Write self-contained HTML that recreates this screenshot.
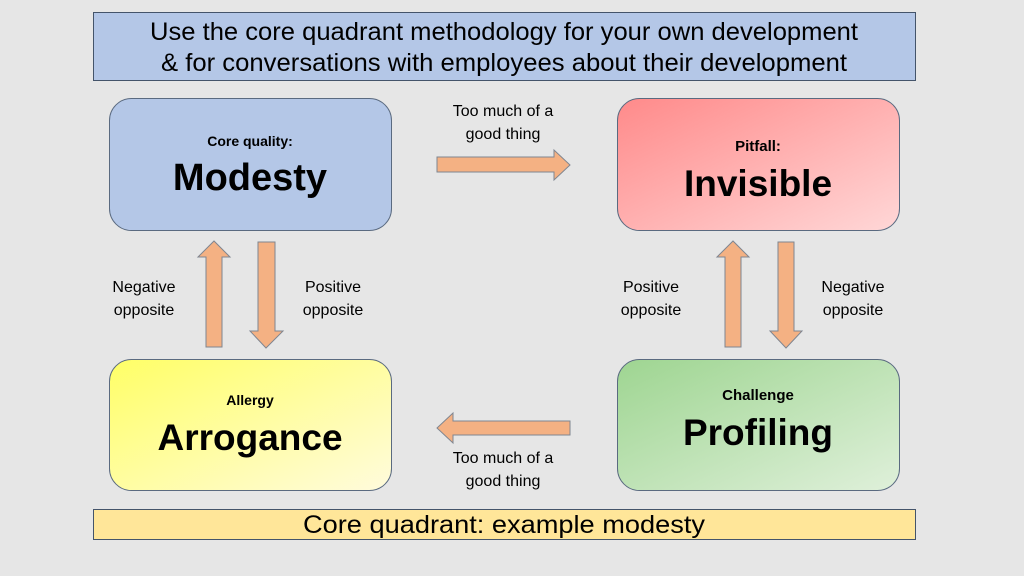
<!DOCTYPE html>
<html><head><meta charset="utf-8"><style>
html,body{margin:0;padding:0;background:#e6e6e6;}
svg{display:block;font-family:"Liberation Sans",sans-serif;}
</style></head><body>
<svg width="1024" height="576" viewBox="0 0 1024 576">
<defs>
<linearGradient id="r" x1="0" y1="0" x2="1" y2="1"><stop offset="0" stop-color="#ff8a8a"/><stop offset="1" stop-color="#ffd7d7"/></linearGradient>
<linearGradient id="g" x1="0" y1="0" x2="1" y2="1"><stop offset="0" stop-color="#9ed591"/><stop offset="1" stop-color="#dff0da"/></linearGradient>
<linearGradient id="y" x1="0" y1="0" x2="1" y2="1"><stop offset="0" stop-color="#ffff66"/><stop offset="1" stop-color="#fffbdc"/></linearGradient>
</defs>
<rect x="0" y="0" width="1024" height="576" fill="#e6e6e6"/>
<rect x="93.5" y="12.5" width="822" height="68" fill="#b4c7e7" stroke="#44546a" stroke-width="1"/>
<text x="504" y="40" font-size="25" text-anchor="middle" textLength="708" lengthAdjust="spacingAndGlyphs" fill="#000">Use the core quadrant methodology for your own development</text>
<text x="504" y="71" font-size="25" text-anchor="middle" textLength="686" lengthAdjust="spacingAndGlyphs" fill="#000">&amp; for conversations with employees about their development</text>

<rect x="109.5" y="98.5" width="282" height="132" rx="22" fill="#b4c7e7" stroke="#5a6a80"/>
<text x="250" y="146" font-size="14" font-weight="bold" text-anchor="middle">Core quality:</text>
<text x="250" y="190" font-size="38" font-weight="bold" text-anchor="middle">Modesty</text>

<rect x="617.5" y="98.5" width="282" height="132" rx="22" fill="url(#r)" stroke="#5a6a80"/>
<text x="758" y="151" font-size="15" font-weight="bold" text-anchor="middle">Pitfall:</text>
<text x="758" y="196" font-size="37" font-weight="bold" text-anchor="middle">Invisible</text>

<rect x="109.5" y="359.5" width="282" height="131" rx="22" fill="url(#y)" stroke="#5a6a80"/>
<text x="250" y="405" font-size="14" font-weight="bold" text-anchor="middle">Allergy</text>
<text x="250" y="450" font-size="37" font-weight="bold" text-anchor="middle">Arrogance</text>

<rect x="617.5" y="359.5" width="282" height="131" rx="22" fill="url(#g)" stroke="#5a6a80"/>
<text x="758" y="400" font-size="15" font-weight="bold" text-anchor="middle">Challenge</text>
<text x="758" y="445" font-size="37" font-weight="bold" text-anchor="middle">Profiling</text>

<rect x="93.5" y="509.5" width="822" height="30" fill="#ffe699" stroke="#44546a"/>
<text x="504" y="533" font-size="25" text-anchor="middle" textLength="402" lengthAdjust="spacingAndGlyphs">Core quadrant: example modesty</text>

<g fill="#f4b183" stroke="#7f8590" stroke-width="1">
<polygon points="437,157 554,157 554,150 570,165 554,180 554,172 437,172"/>
<polygon points="570,421 453,421 453,413 437,428 453,443 453,435 570,435"/>
<polygon points="206,347 206,257 198,257 214,241 230,257 222,257 222,347"/>
<polygon points="258,242 275,242 275,331 283,331 266,348 250,331 258,331"/>
<polygon points="725,347 725,257 717,257 733,241 749,257 741,257 741,347"/>
<polygon points="778,242 794,242 794,331 802,331 786,348 770,331 778,331"/>
</g>

<g font-size="16" text-anchor="middle" fill="#000">
<text x="503" y="116">Too much of a</text>
<text x="503" y="139">good thing</text>
<text x="503" y="463">Too much of a</text>
<text x="503" y="486">good thing</text>
<text x="144" y="292">Negative</text>
<text x="144" y="315">opposite</text>
<text x="333" y="292">Positive</text>
<text x="333" y="315">opposite</text>
<text x="651" y="292">Positive</text>
<text x="651" y="315">opposite</text>
<text x="853" y="292">Negative</text>
<text x="853" y="315">opposite</text>
</g>
</svg>
</body></html>
